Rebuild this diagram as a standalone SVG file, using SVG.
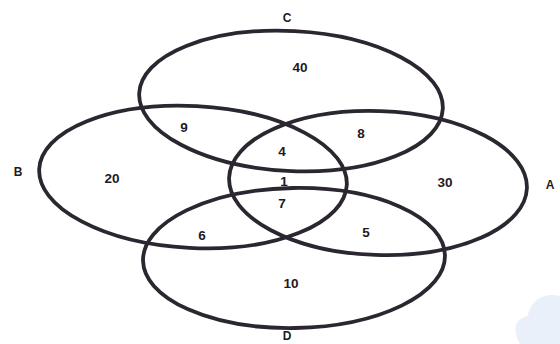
<svg xmlns="http://www.w3.org/2000/svg" width="560" height="344" viewBox="0 0 560 344">
<style>
.set{fill:none;stroke:#2b2630;stroke-width:3.8}
.n{font-family:"Liberation Sans",Arial,sans-serif;font-weight:bold;font-size:13.5px;fill:#1e1a22;text-anchor:middle}
.l{font-family:"Liberation Sans",Arial,sans-serif;font-weight:bold;font-size:12px;fill:#1e1a22;text-anchor:middle}
</style>
<rect width="560" height="344" fill="#ffffff"/>
<path d="M520,344 C512,330 515,318 528,316 C530,300 545,292 560,296 L560,344 Z" fill="#e9f0fa"/>
<g id="connectors"></g>
<g id="setC"><ellipse class="set" cx="291" cy="101" rx="152" ry="70" transform="rotate(3 291 101)"/><text class="l" x="287" y="22">C</text></g>
<g id="setB"><ellipse class="set" cx="193" cy="177" rx="154" ry="71" transform="rotate(3 193 177)"/><text class="l" x="18" y="176">B</text></g>
<g id="setA"><ellipse class="set" cx="378" cy="183" rx="149" ry="72" transform="rotate(2 378 183)"/><text class="l" x="550" y="189">A</text></g>
<g id="setD"><ellipse class="set" cx="294" cy="258" rx="151" ry="70" transform="rotate(-1 294 258)"/><text class="l" x="287" y="340">D</text></g>
<g id="values">
<text class="n" x="300" y="72">40</text>
<text class="n" x="184" y="132">9</text>
<text class="n" x="361" y="138">8</text>
<text class="n" x="282" y="156">4</text>
<text class="n" x="112" y="183">20</text>
<text class="n" x="284" y="186">1</text>
<text class="n" x="445" y="187">30</text>
<text class="n" x="282" y="208">7</text>
<text class="n" x="202" y="240">6</text>
<text class="n" x="366" y="237">5</text>
<text class="n" x="291" y="288">10</text>
</g>
</svg>
